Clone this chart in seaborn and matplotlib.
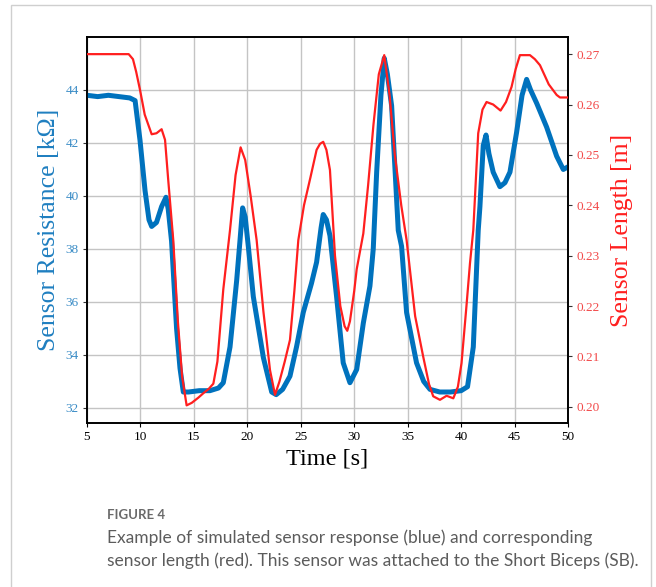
import matplotlib
matplotlib.use("Agg")
import matplotlib.pyplot as plt
import seaborn as sns
import pandas as pd
from matplotlib.patches import Rectangle

# ---- data ----
blue_t = [5.0, 6.0, 7.0, 8.0, 9.0, 9.5, 9.96, 10.43, 10.8, 11.05, 11.5, 11.98, 12.39, 12.6, 12.91,
          13.38, 13.7, 14.01, 14.5, 15.5, 16.5, 17.3, 17.75, 18.38, 19.0, 19.31, 19.56, 19.8, 20.09,
          20.56, 21.5, 22.28, 22.7, 23.3, 23.99, 24.6, 25.23, 26.0, 26.48, 26.9, 27.1, 27.4, 27.73,
          28.35, 28.97, 29.6, 30.23, 30.85, 31.47, 31.78, 32.1, 32.5, 32.81, 33.1, 33.5, 34.12, 34.43,
          34.9, 35.83, 36.5, 37.09, 38.0, 39.0, 40.0, 40.6, 41.14, 41.6, 41.76, 42.07, 42.33, 42.6,
          43.0, 43.63, 44.1, 44.57, 45.19, 45.7, 46.13, 46.5, 47.07, 48.0, 48.94, 49.56, 50.0]
blue_r = [43.8, 43.75, 43.8, 43.75, 43.7, 43.6, 42.1, 40.2, 39.1, 38.85, 39.0, 39.6, 39.95, 39.5, 38.3,
          35.0, 33.5, 32.6, 32.6, 32.65, 32.65, 32.75, 32.95, 34.3, 36.8, 38.3, 39.55, 39.2, 38.1,
          36.2, 33.9, 32.6, 32.5, 32.7, 33.2, 34.3, 35.6, 36.7, 37.5, 38.8, 39.3, 39.1, 38.5,
          36.2, 33.7, 32.95, 33.45, 35.2, 36.6, 38.0, 40.9, 43.8, 45.2, 44.6, 43.4, 38.7, 38.1,
          35.6, 33.7, 33.0, 32.7, 32.6, 32.6, 32.65, 32.8, 34.3, 38.7, 39.6, 41.9, 42.3, 41.6,
          40.9, 40.35, 40.5, 40.9, 42.4, 43.8, 44.4, 44.0, 43.5, 42.6, 41.5, 41.0, 41.1]

red_t = [5.0, 8.9, 9.3, 9.6, 9.96, 10.4, 11.05, 11.5, 11.98, 12.3, 12.6, 13.07, 13.5, 13.9, 14.32,
         14.8, 15.4, 15.88, 16.4, 16.82, 17.2, 17.75, 18.38, 18.9, 19.37, 19.8, 20.3, 20.87, 21.5,
         22.12, 22.59, 23.0, 23.5, 23.99, 24.4, 24.77, 25.3, 25.9, 26.48, 26.8, 27.1, 27.4, 27.73,
         28.2, 28.7, 29.1, 29.35, 29.6, 30.0, 30.23, 30.85, 31.3, 31.8, 32.3, 32.81, 33.3, 33.8,
         34.4, 34.9, 35.7, 36.45, 37.0, 37.39, 38.02, 38.64, 39.27, 39.7, 40.04, 40.5, 40.83, 41.14,
         41.6, 42.0, 42.38, 43.0, 43.69, 44.2, 44.72, 45.1, 45.5, 46.44, 46.9, 47.38, 48.2, 48.94,
         49.25, 50.0]
red_len = [0.2700, 0.2700, 0.2690, 0.2665, 0.2629, 0.2580, 0.2541, 0.2543, 0.2551, 0.2530, 0.2450,
           0.2331, 0.2170, 0.2060, 0.2003, 0.2008, 0.2018, 0.2027, 0.2036, 0.2046, 0.2090, 0.2233,
           0.2351, 0.2460, 0.2515, 0.2490, 0.2420, 0.2331, 0.2190, 0.2073, 0.2024, 0.2050, 0.2090,
           0.2133, 0.2230, 0.2331, 0.2400, 0.2455, 0.2510, 0.2522, 0.2526, 0.2510, 0.2470, 0.2300,
           0.2200, 0.2160, 0.2151, 0.2170, 0.2230, 0.2273, 0.2344, 0.2440, 0.2560, 0.2660, 0.2698,
           0.2620, 0.2500, 0.2400, 0.2331, 0.2180, 0.2100, 0.2045, 0.2021, 0.2014, 0.2022, 0.2017,
           0.2040, 0.2087, 0.2200, 0.2285, 0.2351, 0.2543, 0.2590, 0.2605, 0.2600, 0.2588, 0.2605,
           0.2635, 0.2670, 0.2698, 0.2698, 0.2690, 0.2678, 0.2640, 0.2619, 0.2614, 0.2614]

x_ticks = [5, 10, 15, 20, 25, 30, 35, 40, 45, 50]
left_ticks = [32, 34, 36, 38, 40, 42, 44]
right_ticks = [0.20, 0.21, 0.22, 0.23, 0.24, 0.25, 0.26, 0.27]

BLUE = "#0072BD"
RED = "#FF1F1F"
SERIF = ["Liberation Serif", "DejaVu Serif"]

sns.set_theme(style="white")
plt.rcParams["font.family"] = SERIF

fig = plt.figure(figsize=(6.56, 5.87), dpi=100)
fig.patch.set_facecolor("white")

# card border
fig.patches.append(Rectangle((11 / 656, -0.05), 640 / 656, 1.05 - 5 / 587, transform=fig.transFigure,
                             fill=False, edgecolor="#cfcfcf", linewidth=1.0, zorder=0))

ax = fig.add_axes([87 / 656, 1 - 423 / 587, 481 / 656, 386 / 587])
dfb = pd.DataFrame({"t": blue_t, "r": blue_r})
dfr = pd.DataFrame({"t": red_t, "l": red_len})

sns.lineplot(data=dfb, x="t", y="r", ax=ax, color=BLUE, linewidth=3.6, zorder=3)
ax.set_xlim(5, 50)
ax.set_ylim(31.43, 46.0)
ax.set_xticks(x_ticks)
ax.set_yticks(left_ticks)
ax.grid(True, color="#c4c4c4", linewidth=1.0)
ax.set_axisbelow(True)
ax.tick_params(axis="x", labelsize=9.5, colors="black", length=3, width=0.8, direction="out",
               bottom=True, pad=3)
ax.tick_params(axis="y", labelsize=9.5, labelcolor="#3a8cc6", color="#333333", length=3, width=0.8,
               direction="out", left=True, pad=3)
ax.set_xlabel("Time [s]", fontsize=17.5, color="black", labelpad=4)
ax.set_ylabel("Sensor Resistance [kΩ]", fontsize=18.5, color="#1f7fc0", labelpad=4)
for s in ax.spines.values():
    s.set_color("black")
    s.set_linewidth(1.2)

ax2 = ax.twinx()
sns.lineplot(data=dfr, x="t", y="l", ax=ax2, color=RED, linewidth=1.6, zorder=4)
ax2.set_ylim(0.1968, 0.2734)
ax2.set_yticks(right_ticks)
ax2.set_yticklabels([f"{v:.2f}" for v in right_ticks])
ax2.tick_params(axis="y", labelsize=9.5, labelcolor="#f24a4a", color="#333333", length=3, width=0.8,
                direction="out", right=True, pad=3)
ax2.set_ylabel("Sensor Length [m]", fontsize=18.5, color=RED, labelpad=8)
ax2.set_xlabel("")
ax2.grid(False)
for s in ax2.spines.values():
    s.set_color("black")
    s.set_linewidth(1.2)

# caption
cap_font = ["Lato", "DejaVu Sans"]
fig.text(107 / 656, 1 - 515 / 587, "FIGURE 4", fontsize=9.5, color="#6a6a6a", family=cap_font,
         fontweight="bold", va="center", ha="left")
fig.text(107 / 656, 1 - 538 / 587, "Example of simulated sensor response (blue) and corresponding",
         fontsize=12.5, color="#5c5c5c", family=cap_font, va="center", ha="left")
fig.text(107 / 656, 1 - 561 / 587, "sensor length (red). This sensor was attached to the Short Biceps (SB).",
         fontsize=12.5, color="#5c5c5c", family=cap_font, va="center", ha="left")

fig.savefig("out.png", dpi=100, facecolor="white")
